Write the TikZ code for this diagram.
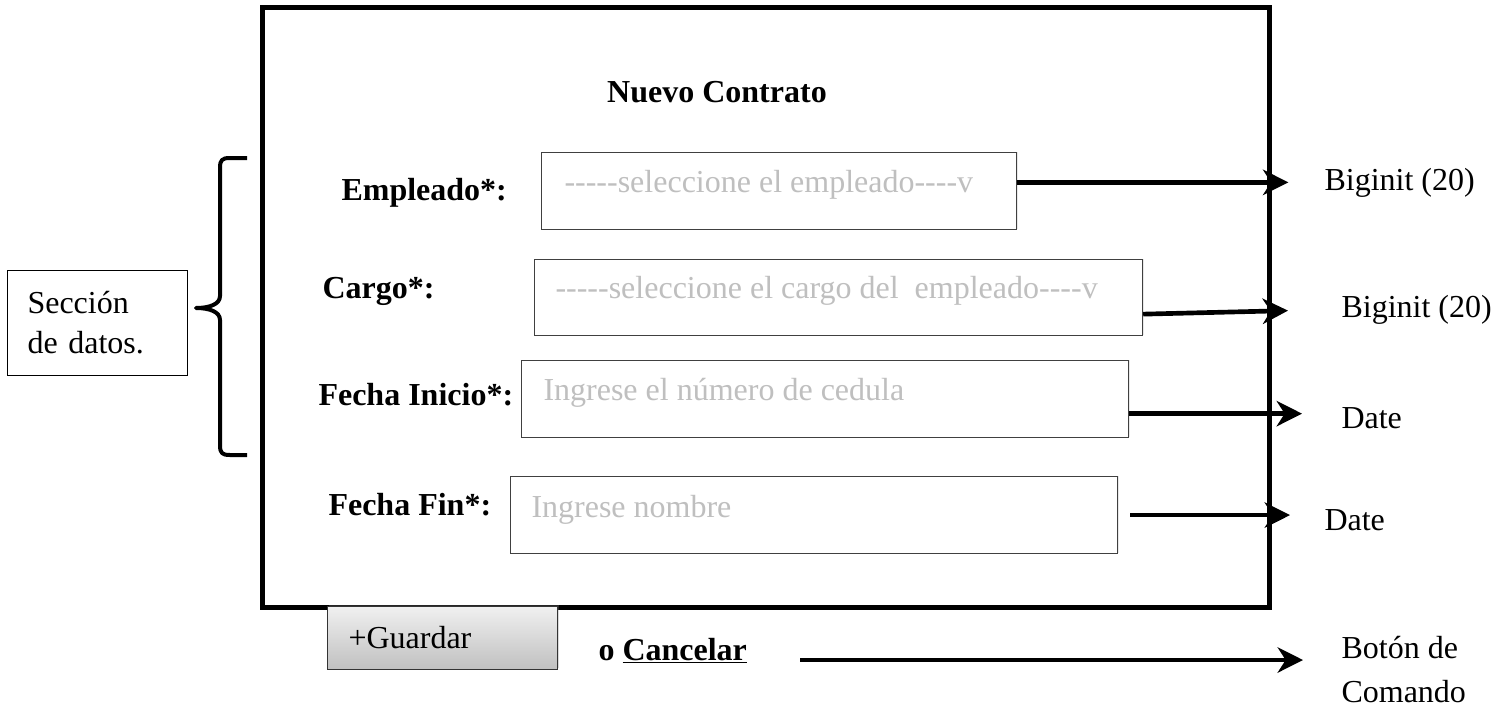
\documentclass[tikz,border=0pt]{standalone}
\usepackage{fontspec}
\setmainfont{Liberation Serif}[Ligatures=TeXOff]
\usetikzlibrary{arrows.meta,shadows}

\tikzset{every picture/.style={line width=0.75pt}}
\tikzset{
  texto/.style={font=\fontsize{24}{30}\selectfont, inner sep=0.75pt},
  etiqueta/.style={texto, font=\fontsize{24}{30}\selectfont\bfseries, anchor=base west},
  ayuda/.style={texto, anchor=base west, text={rgb, 255:red, 191; green, 191; blue, 191 }},
  tipo/.style={texto, anchor=base west, align=left},
  campo/.style={draw={rgb, 255:red, 64; green, 64; blue, 64 }, fill=white, line width=0.9pt, anchor=north west, inner sep=0pt,
    drop shadow={opacity=0.18, shadow xshift=0.8pt, shadow yshift=0.8pt}},
  flecha/.style={line width=3.5pt, -{Stealth[length=19pt, width=19pt, inset=6pt]}}
}

\begin{document}
\begin{tikzpicture}[x=0.75pt,y=0.75pt,yscale=-1,xscale=1]
        \useasboundingbox (0,0) rectangle (1505,707);

        %Shape: Rectangle [marco]
        \draw [line width=3.75pt] (262.5,7.5) rectangle (1269.5,607.5) ;

        % Text Node
        \node [texto, font=\fontsize{24}{30}\selectfont\bfseries, anchor=base] (titulo) at (717,102) {Nuevo Contrato};

        % Text Node
        \node [etiqueta] (lblemp) at (340,200) {Empleado*:};
        \node [etiqueta] (lblcargo) at (321,298) {Cargo*:};
        \node [etiqueta] (lblinicio) at (317,405) {Fecha Inicio*:};
        \node [etiqueta] (lblfin) at (327,515) {Fecha Fin*:};

        %Shape: Rectangle [campos]
        \node [campo, minimum width=356.25pt, minimum height=57.75pt] (empfield) at (541,152) {};
        \node [campo, minimum width=456pt, minimum height=57pt] (cargofield) at (534,259) {};
        \node [campo, minimum width=455.25pt, minimum height=57.75pt] (iniciofield) at (521,360) {};
        \node [campo, minimum width=455.25pt, minimum height=57.75pt] (finfield) at (510,476) {};

        % Text Node
        \node [ayuda] (emptxt) at (563,192) {-----seleccione el empleado----v};
        \node [ayuda] (cargotxt) at (554,298) {-----seleccione el cargo del~ empleado----v};
        \node [ayuda] (iniciotxt) at (542,400) {Ingrese el número de cedula};
        \node [ayuda] (fintxt) at (530,517) {Ingrese nombre};

        % Text Node
        \node [tipo] (emptype) at (1323,190) {Biginit (20)};
        \node [tipo] (cargotype) at (1340,317) {Biginit (20)};
        \node [tipo] (iniciotype) at (1340,428) {Date};
        \node [tipo] (fintype) at (1323,530) {Date};
        \node [tipo] (boton) at (1340,702) {Botón de\\[3pt]Comando};

        %Shape: Rectangle [seccion]
        \node [draw, texto, anchor=north west, minimum width=135pt, minimum height=78.75pt, text width=105pt, inner xsep=15pt, align=left] (seccion) at (7,270) {Sección\\de datos.};

        %Shape: Brace
        \draw [line width=3pt, line join=round] (247,158) -- (230,158) .. controls (222,158) and (220,160) .. (220,168) -- (220,296) .. controls (220,304) and (210,308) .. (196,308) .. controls (210,308) and (220,312) .. (220,320) -- (220,445) .. controls (220,453) and (222,455) .. (230,455) -- (247,455) ;

        %Shape: Button
        \node [draw={rgb, 255:red, 51; green, 51; blue, 51 }, texto, anchor=north west, minimum width=172.5pt, minimum height=47.25pt, text width=141pt, inner xsep=15.75pt, align=left, top color={rgb, 255:red, 240; green, 240; blue, 240 }, bottom color={rgb, 255:red, 192; green, 192; blue, 192 }, drop shadow={opacity=0.3, shadow xshift=1pt, shadow yshift=1.5pt}] (guardar) at (327,606) {+Guardar};

        % Text Node
        \node [texto, font=\fontsize{24}{30}\selectfont\bfseries, anchor=base west] (cancelar) at (597,660) {o \underline{Cancelar}};

        %Straight Lines [flechas]
        \draw [flecha, shorten >=26pt] (empfield.east |- emptype.west) -- (emptype.west) ;
        \draw [flecha, shorten >=39pt] ([yshift=12.4pt]cargofield.east) -- (cargotype.west) ;
        \draw [flecha, shorten >=28.5pt] ([yshift=10.9pt]iniciofield.east) coordinate (p3) -- (p3 -| iniciotype.west) ;
        \draw [flecha, shorten <=9pt, shorten >=24.75pt] (finfield.east) -- (finfield.east -| fintype.west) ;
        \draw [flecha, shorten <=39pt, shorten >=27.75pt] (cancelar.base east) -- (cancelar.base east -| boton.west) ;

\end{tikzpicture}
\end{document}
